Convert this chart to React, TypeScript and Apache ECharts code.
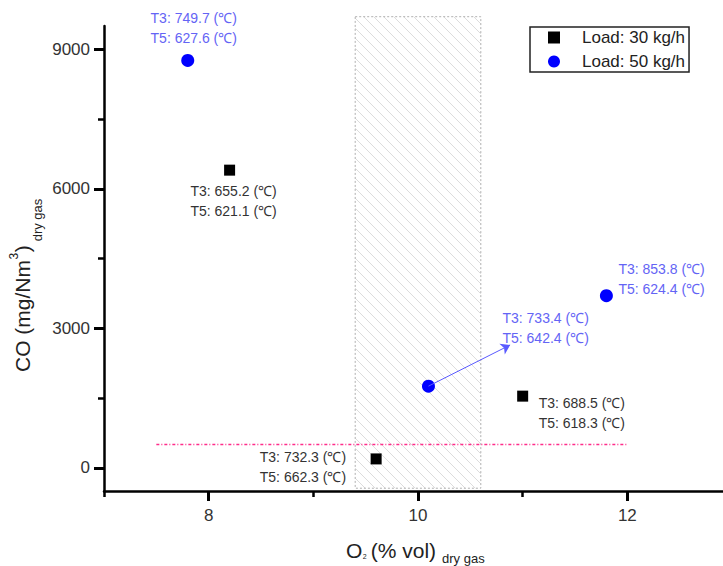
import React, { useEffect, useRef } from 'react';
import * as echarts from 'echarts';

// ---------- data ----------
const load30Name = 'Load: 30 kg/h';
const load50Name = 'Load: 50 kg/h';
const load30Points = [[8.2, 6400], [9.6, 190], [11.0, 1540]];
const load50Points = [[7.8, 8760], [10.1, 1755], [11.8, 3700]];
const load30Notes = ['T3: 655.2 (℃)\nT5: 621.1 (℃)', 'T3: 732.3 (℃)\nT5: 662.3 (℃)', 'T3: 688.5 (℃)\nT5: 618.3 (℃)'];
const load50Notes = ['T3: 749.7 (℃)\nT5: 627.6 (℃)', 'T3: 733.4 (℃)\nT5: 642.4 (℃)', 'T3: 853.8 (℃)\nT5: 624.4 (℃)'];
const xTicks = [8, 10, 12];
const xMinorTicks = [7, 9, 11, 13];
const yTicks = [0, 3000, 6000, 9000];
const yMinorTicks = [1500, 4500, 7500];
const hatchRange = [9.4, 10.6, 9700, -440]; // x from, x to, y top, y bottom
const limitLine = [[7.5, 500], [12, 500]];
const arrowFrom = [10.1, 1755];
const arrowTo = [10.88, 2640];

// ---------- styling ----------
const FONT = "'Liberation Sans', Arial, sans-serif";
const load30LabelLayout = [
  { align: 'center', offset: [4, 31] },
  { align: 'right', offset: [-30, 8] },
  { align: 'left', offset: [16, 17] },
];
const load50LabelLayout = [
  { align: 'center', offset: [6, -32] },
  { align: 'left', offset: [74, -58] },
  { align: 'left', offset: [12, -17] },
];

function measure(text: string, size: number): number {
  const c = document.createElement('canvas');
  const ctx = c.getContext('2d');
  if (!ctx) return text.length * size * 0.55;
  ctx.font = `${size}px ${FONT}`;
  return ctx.measureText(text).width;
}

export default function App() {
  const ref = useRef<HTMLDivElement>(null);

  useEffect(() => {
    document.body.style.margin = '0';
    if (!ref.current) return;
    const chart = echarts.init(ref.current, null, { renderer: 'svg' });

    const titleSize = 21;
    const subSize = 13;
    // x axis name pieces
    const xO = 346;
    const wO = measure('O', titleSize);
    const x2 = xO + wO + 0.5;
    const w2 = measure('2', 7);
    const xParen = x2 + w2 + 4;
    const wParen = measure('(% vol)', titleSize);
    const xDry = xParen + wParen + 6;

    // y axis name pieces (local, rotated)
    const w1 = measure('CO (mg/Nm', titleSize);
    const w3 = measure('3', 12);
    const wClose = measure(')', titleSize);

    const makeData = (pts: number[][], notes: string[], layouts: any[], color: string) =>
      pts.map((p, i) => ({
        value: p,
        label: {
          show: true,
          position: 'inside',
          formatter: notes[i],
          align: layouts[i].align,
          verticalAlign: 'middle',
          offset: layouts[i].offset,
          color,
          fontSize: 14,
          lineHeight: 20,
          fontFamily: FONT,
        },
      }));

    const plain = (v: number) => String(v);

    const option: any = {
      animation: false,
      backgroundColor: '#fff',
      grid: [
        { left: 104, right: -9, top: 26, bottom: 75, containLabel: false, outerBoundsMode: 'none' },
        { left: 104, right: -9, top: 26, bottom: 75, containLabel: false, outerBoundsMode: 'none' },
      ],
      legend: {
        orient: 'vertical',
        left: 530,
        top: 27,
        data: [
          { name: load30Name, icon: 'rect', itemStyle: { color: '#000', opacity: 1 } },
          { name: load50Name, icon: 'circle', itemStyle: { color: '#0000ff', opacity: 1 } },
        ],
        itemWidth: 12,
        itemHeight: 12,
        itemGap: 7,
        padding: [2, 4, 2, 18],
        borderColor: '#222',
        borderWidth: 1.5,
        selectedMode: false,
        textStyle: { fontSize: 17, color: '#222', fontFamily: FONT, padding: [0, 0, 0, 17] },
      },
      xAxis: [
        {
          type: 'value',
          gridIndex: 0,
          min: 7,
          max: 13,
          axisLine: { show: true, onZero: false, lineStyle: { color: '#000', width: 2.5 } },
          axisTick: { show: true, customValues: xTicks, length: 10, lineStyle: { color: '#000', width: 3 } },
          axisLabel: { customValues: xTicks, formatter: plain, fontSize: 17, color: '#333', margin: 16, fontFamily: FONT },
          splitLine: { show: false },
        },
        {
          type: 'value',
          gridIndex: 1,
          min: 7,
          max: 13,
          position: 'bottom',
          axisLine: { show: false, onZero: false },
          axisTick: { show: true, customValues: xMinorTicks, length: 6, lineStyle: { color: '#000', width: 2.5 } },
          axisLabel: { show: false },
          splitLine: { show: false },
        },
      ],
      yAxis: [
        {
          type: 'value',
          gridIndex: 0,
          min: -500,
          max: 9500,
          axisLine: { show: true, onZero: false, lineStyle: { color: '#000', width: 2.5 } },
          axisTick: { show: true, customValues: yTicks, length: 10, lineStyle: { color: '#000', width: 3 } },
          axisLabel: { customValues: yTicks, formatter: plain, fontSize: 17, color: '#333', margin: 14, fontFamily: FONT },
          splitLine: { show: false },
        },
        {
          type: 'value',
          gridIndex: 1,
          min: -500,
          max: 9500,
          position: 'left',
          axisLine: { show: false, onZero: false },
          axisTick: { show: true, customValues: yMinorTicks, length: 6, lineStyle: { color: '#000', width: 2.5 } },
          axisLabel: { show: false },
          splitLine: { show: false },
        },
      ],
      series: [
        {
          type: 'custom',
          name: 'hatch',
          xAxisIndex: 0,
          yAxisIndex: 0,
          silent: true,
          clip: false,
          z: 1,
          data: [hatchRange],
          encode: { x: [0, 1], y: [2, 3] },
          renderItem: (params: any, api: any) => {
            const a = api.coord([api.value(0), api.value(2)]);
            const b = api.coord([api.value(1), api.value(3)]);
            const x0 = a[0];
            const y0 = a[1];
            const w = b[0] - a[0];
            const h = b[1] - a[1];
            const children: any[] = [];
            const step = 10;
            for (let c = -h; c < w; c += step) {
              const t0 = Math.max(0, -c);
              const t1 = Math.min(h, w - c);
              if (t1 > t0) {
                children.push({
                  type: 'line',
                  shape: { x1: x0 + c + t0, y1: y0 + t0, x2: x0 + c + t1, y2: y0 + t1 },
                  style: { stroke: '#d8d8d8', lineWidth: 0.9 },
                });
              }
            }
            children.push({
              type: 'rect',
              shape: { x: x0, y: y0, width: w, height: h },
              style: { fill: 'none', stroke: '#b0b0b0', lineWidth: 1, lineDash: [2, 2] },
            });
            return { type: 'group', children };
          },
        },
        {
          type: 'line',
          name: 'limit',
          xAxisIndex: 0,
          yAxisIndex: 0,
          data: limitLine,
          symbol: 'none',
          silent: true,
          z: 2,
          lineStyle: { color: '#ff2d8a', width: 1.5, type: [3, 2, 1, 2] },
        },
        {
          type: 'scatter',
          name: load30Name,
          xAxisIndex: 0,
          yAxisIndex: 0,
          symbol: 'rect',
          symbolSize: 11,
          itemStyle: { color: '#000', opacity: 1 },
          z: 4,
          data: makeData(load30Points, load30Notes, load30LabelLayout, '#333'),
        },
        {
          type: 'scatter',
          name: load50Name,
          xAxisIndex: 0,
          yAxisIndex: 0,
          symbol: 'circle',
          symbolSize: 13,
          itemStyle: { color: '#0000ff', opacity: 1 },
          z: 4,
          data: makeData(load50Points, load50Notes, load50LabelLayout, '#6464f5'),
          markLine: {
            silent: true,
            symbol: ['none', 'arrow'],
            symbolSize: 9,
            label: { show: false },
            lineStyle: { color: '#5a5aff', width: 1, type: 'solid', opacity: 1 },
            data: [[{ coord: arrowFrom }, { coord: arrowTo }]],
          },
        },
      ],
      graphic: [
        { type: 'text', x: xO, y: 550, style: { text: 'O', fontSize: titleSize, fontFamily: FONT, fill: '#222', align: 'left', verticalAlign: 'middle' } },
        { type: 'text', x: x2, y: 556, style: { text: '2', fontSize: 7, fontFamily: FONT, fill: '#222', align: 'left', verticalAlign: 'middle' } },
        { type: 'text', x: xParen, y: 550, style: { text: '(% vol)', fontSize: titleSize, fontFamily: FONT, fill: '#222', align: 'left', verticalAlign: 'middle' } },
        { type: 'text', x: xDry, y: 558, style: { text: 'dry gas', fontSize: subSize, fontFamily: FONT, fill: '#222', align: 'left', verticalAlign: 'middle' } },
        {
          type: 'group',
          x: 22,
          y: 372,
          rotation: Math.PI / 2,
          children: [
            { type: 'text', x: 0, y: 0, style: { text: 'CO (mg/Nm', fontSize: titleSize, fontFamily: FONT, fill: '#222', align: 'left', verticalAlign: 'middle' } },
            { type: 'text', x: w1 + 0.5, y: -8, style: { text: '3', fontSize: 12, fontFamily: FONT, fill: '#222', align: 'left', verticalAlign: 'middle' } },
            { type: 'text', x: w1 + w3 + 1, y: 0, style: { text: ')', fontSize: titleSize, fontFamily: FONT, fill: '#222', align: 'left', verticalAlign: 'middle' } },
            { type: 'text', x: w1 + w3 + wClose + 5, y: 15, style: { text: 'dry gas', fontSize: subSize, fontFamily: FONT, fill: '#222', align: 'left', verticalAlign: 'middle' } },
          ],
        },
      ],
    };

    chart.setOption(option);
    return () => chart.dispose();
  }, []);

  return <div ref={ref} style={{ width: 723, height: 566 }} />;
}
